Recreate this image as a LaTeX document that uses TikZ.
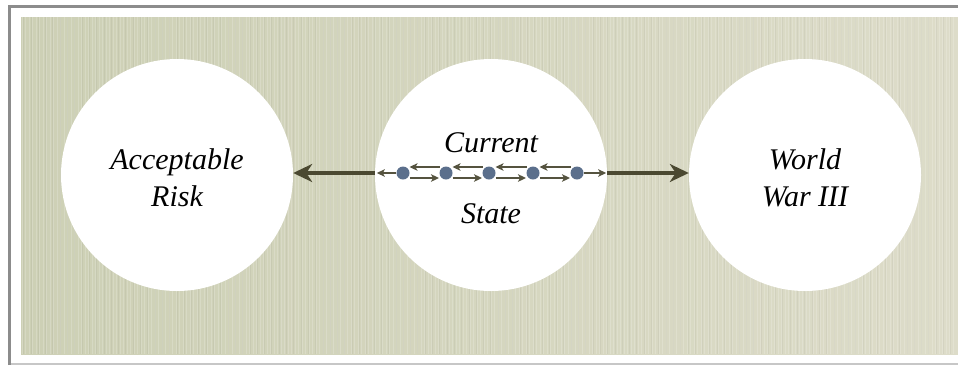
\documentclass[tikz,border=0pt]{standalone}
\usepackage{fontspec}
\setmainfont{Liberation Serif}
\usetikzlibrary{arrows.meta}
\definecolor{paperL}{HTML}{CDD0B5}
\definecolor{paperR}{HTML}{DDDCC9}
\definecolor{olive}{HTML}{4B4931}
\definecolor{thinline}{HTML}{55533F}
\definecolor{dotblue}{HTML}{5B6F8C}
\tikzset{
  world/.style={circle, fill=white, minimum size=232pt, inner sep=0pt},
  lbl/.style={align=center, text=black, font=\fontsize{30}{37}\selectfont\itshape},
  dot/.style={circle, fill=dotblue, minimum size=13pt, inner sep=0pt},
  flow/.style={draw=thinline, line width=1.4pt, -{Stealth[length=8pt,width=7.5pt,inset=2pt]}},
  push/.style={draw=olive, line width=4pt, -{Stealth[length=19pt,width=18pt,inset=6pt]}}
}

\begin{document}
\begin{tikzpicture}[x=1pt,y=-1pt]
    \useasboundingbox (0,0) rectangle (958,365);
    % frame and paper
    \fill[white] (0,0) rectangle (958,365);
    \shade[left color=paperL, right color=paperR] (21,17) rectangle (958,354);
    \foreach \x in {22,25.5,...,956} \draw[white, opacity=0.18, line width=0.8pt] (\x,17) -- (\x,354);
    \foreach \x in {23.7,31,...,956} \draw[black, opacity=0.04, line width=1pt] (\x,17) -- (\x,354);
    \draw[black!45, line width=3pt] (9.5,365) -- (9.5,6.5) -- (958,6.5);
    \draw[black!22, line width=2pt] (11,364) -- (958,364);

    \node[world] (A) at (177,175) {};
    \node[world] (C) at (491,175) {};
    \node[world] (W) at (805,175) {};

    \node[lbl] (tA) at (177,178) {Acceptable\\Risk};
    \node[lbl] (tW) at (805,178) {World\\War III};
    \node[lbl, anchor=base] (tC) at (491,152) {Current};
    \node[lbl, anchor=base] (tS) at (491,223) {State};

    \foreach \i/\x in {1/403,2/446,3/489,4/533,5/577}
        \node[dot] (d\i) at (\x,173) {};

    \foreach \i/\j in {2/1,3/2,4/3,5/4}
        \draw[flow, shorten <=6.5pt, shorten >=6.5pt] ([yshift=6pt]d\i.center) -- ([yshift=6pt]d\j.center);
    \foreach \i/\j in {1/2,2/3,3/4,4/5}
        \draw[flow, shorten <=6.5pt, shorten >=7pt] ([yshift=-5pt]d\i.center) -- ([yshift=-5pt]d\j.center);

    \coordinate (cl) at (C.west |- d1);
    \coordinate (cr) at (C.east |- d5);
    \draw[flow, shorten >=2pt] (d1) -- (cl);
    \draw[flow, shorten >=1pt] (d5) -- (cr);
    \draw[push] (cl) -- (A.east |- cl);
    \draw[push] (cr) -- (W.west |- cr);
\end{tikzpicture}
\end{document}
